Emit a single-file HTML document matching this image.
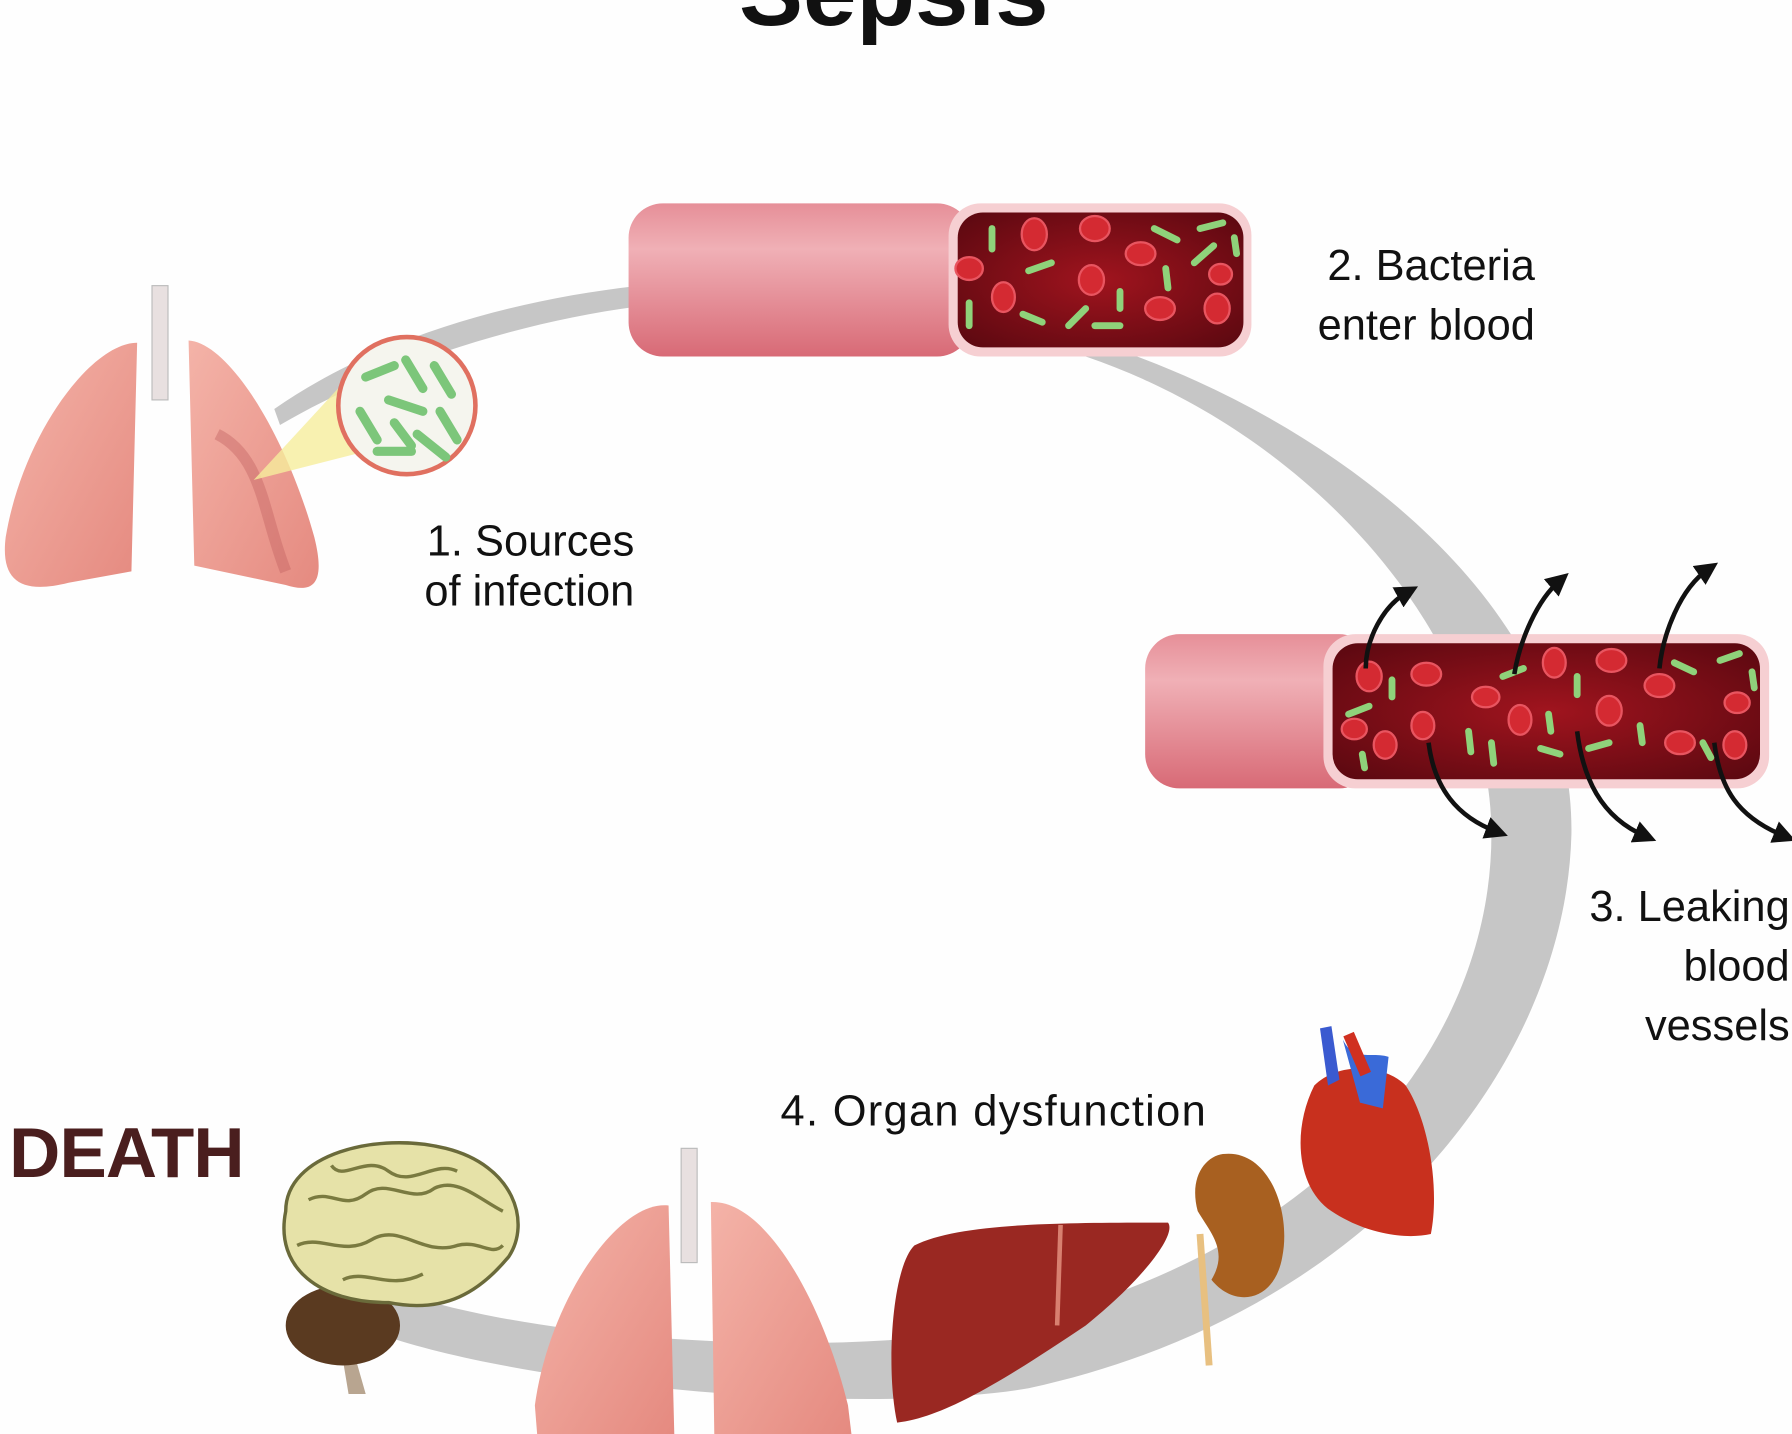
<!DOCTYPE html>
<html><head><meta charset="utf-8"><style>
html,body{margin:0;padding:0;background:#fefefe;overflow:hidden}
svg{display:block}
text{font-family:"Liberation Sans",sans-serif}
</style></head><body>
<svg width="1792" height="1434" viewBox="0 0 1568 1255" preserveAspectRatio="none" xmlns="http://www.w3.org/2000/svg">
<defs>
<linearGradient id="tube" x1="0" y1="0" x2="0" y2="1">
<stop offset="0" stop-color="#e68f98"/><stop offset="0.3" stop-color="#f0b0b6"/><stop offset="1" stop-color="#d86a76"/>
</linearGradient>
<radialGradient id="blood" cx="0.5" cy="0.5" r="0.7">
<stop offset="0" stop-color="#a0141e"/><stop offset="1" stop-color="#5a0810"/>
</radialGradient>
<linearGradient id="lung" x1="0" y1="0" x2="1" y2="1">
<stop offset="0" stop-color="#f4b3a8"/><stop offset="1" stop-color="#e58a80"/>
</linearGradient>
<marker id="ah" viewBox="0 0 10 10" refX="5" refY="5" markerWidth="5" markerHeight="5" orient="auto"><path d="M0,0 L10,5 L0,10 z" fill="#111"/></marker>
</defs>

<text x="782" y="22" text-anchor="middle" font-size="84" font-weight="bold" fill="#111">Sepsis</text>

<!-- ring -->
<path fill="#c6c6c6" d="M240,358 C330,295 450,262 560,250 L960,300 C1150,360 1378,520 1375,730 C1370,930 1200,1150 900,1215 C750,1240 450,1212 325,1165 L340,1128 C480,1178 750,1188 880,1160 C1150,1100 1305,920 1305,730 C1305,560 1150,380 950,312 L560,268 C450,282 330,322 245,372 Z"/>

<!-- left lungs -->
<rect x="133" y="250" width="14" height="100" fill="#e8e0e0" stroke="#bbb"/>
<path d="M120,300 C80,300 20,380 5,470 C0,510 20,520 60,510 L115,500 Z" fill="url(#lung)"/>
<path d="M165,298 C200,300 250,380 275,470 C285,510 275,520 250,512 L170,495 Z" fill="url(#lung)"/>
<path d="M190,380 C230,400 230,450 250,500" stroke="#c06060" stroke-width="10" fill="none" opacity="0.4"/>
<path d="M222,420 L305,330 L320,395 Z" fill="#f6ee9c" opacity="0.8"/>
<circle cx="356" cy="355" r="60" fill="#f5f5ee" stroke="#e07060" stroke-width="4"/>
<g stroke="#7cc67a" stroke-width="8" stroke-linecap="round">
<line x1="320" y1="330" x2="345" y2="320"/><line x1="355" y1="315" x2="370" y2="340"/><line x1="380" y1="320" x2="395" y2="345"/>
<line x1="315" y1="360" x2="330" y2="385"/><line x1="340" y1="350" x2="370" y2="360"/><line x1="385" y1="360" x2="400" y2="385"/>
<line x1="330" y1="395" x2="360" y2="395"/><line x1="365" y1="380" x2="390" y2="400"/><line x1="345" y1="370" x2="360" y2="390"/>
</g>

<!-- top vessel -->
<rect x="550" y="178" width="300" height="134" rx="30" fill="url(#tube)"/>
<rect x="830" y="178" width="265" height="134" rx="28" fill="#f6cfd2"/>
<rect x="838" y="186" width="250" height="118" rx="22" fill="url(#blood)"/>
<g fill="#d42a32" stroke="#e85560" stroke-width="2">
<ellipse cx="905" cy="205" rx="11" ry="14"/><ellipse cx="958" cy="200" rx="13" ry="11"/><ellipse cx="998" cy="222" rx="13" ry="10"/>
<ellipse cx="848" cy="235" rx="12" ry="10"/><ellipse cx="955" cy="245" rx="11" ry="13"/><ellipse cx="878" cy="260" rx="10" ry="13"/>
<ellipse cx="1015" cy="270" rx="13" ry="10"/><ellipse cx="1065" cy="270" rx="11" ry="13"/><ellipse cx="1068" cy="240" rx="10" ry="9"/>
</g>
<g stroke="#8fd27a" stroke-width="6" stroke-linecap="round">
<line x1="868" y1="200" x2="868" y2="218"/><line x1="900" y1="237" x2="920" y2="230"/><line x1="1010" y1="200" x2="1030" y2="210"/>
<line x1="1050" y1="200" x2="1070" y2="195"/><line x1="1045" y1="230" x2="1062" y2="215"/><line x1="1020" y1="235" x2="1022" y2="252"/>
<line x1="848" y1="265" x2="848" y2="285"/><line x1="895" y1="275" x2="912" y2="282"/><line x1="935" y1="285" x2="950" y2="270"/>
<line x1="958" y1="285" x2="980" y2="285"/><line x1="980" y1="255" x2="980" y2="270"/><line x1="1080" y1="208" x2="1082" y2="222"/>
</g>

<!-- right vessel -->
<rect x="1002" y="555" width="200" height="135" rx="30" fill="url(#tube)"/>
<rect x="1158" y="555" width="390" height="135" rx="28" fill="#f6cfd2"/>
<rect x="1166" y="563" width="374" height="119" rx="22" fill="url(#blood)"/>
<g fill="#d42a32" stroke="#e85560" stroke-width="2">
<ellipse cx="1198" cy="592" rx="11" ry="13"/><ellipse cx="1248" cy="590" rx="13" ry="10"/><ellipse cx="1300" cy="610" rx="12" ry="9"/>
<ellipse cx="1360" cy="580" rx="10" ry="13"/><ellipse cx="1410" cy="578" rx="13" ry="10"/><ellipse cx="1452" cy="600" rx="13" ry="10"/>
<ellipse cx="1185" cy="638" rx="11" ry="9"/><ellipse cx="1245" cy="635" rx="10" ry="12"/><ellipse cx="1330" cy="630" rx="10" ry="13"/>
<ellipse cx="1408" cy="622" rx="11" ry="13"/><ellipse cx="1470" cy="650" rx="13" ry="10"/><ellipse cx="1520" cy="615" rx="11" ry="9"/>
<ellipse cx="1212" cy="652" rx="10" ry="12"/><ellipse cx="1518" cy="652" rx="10" ry="12"/>
</g>
<g stroke="#8fd27a" stroke-width="6" stroke-linecap="round">
<line x1="1218" y1="595" x2="1218" y2="610"/><line x1="1180" y1="625" x2="1198" y2="618"/><line x1="1315" y1="592" x2="1333" y2="585"/>
<line x1="1380" y1="592" x2="1380" y2="608"/><line x1="1465" y1="580" x2="1482" y2="588"/><line x1="1505" y1="578" x2="1522" y2="572"/>
<line x1="1533" y1="588" x2="1535" y2="602"/><line x1="1285" y1="640" x2="1287" y2="658"/><line x1="1305" y1="650" x2="1307" y2="668"/>
<line x1="1348" y1="655" x2="1365" y2="660"/><line x1="1390" y1="655" x2="1408" y2="650"/><line x1="1435" y1="635" x2="1437" y2="650"/>
<line x1="1192" y1="660" x2="1194" y2="672"/><line x1="1355" y1="625" x2="1357" y2="640"/><line x1="1490" y1="650" x2="1497" y2="663"/>
</g>
<g stroke="#111" stroke-width="4" fill="none" marker-end="url(#ah)">
<path d="M1195,585 C1195,560 1210,530 1232,518"/>
<path d="M1325,590 C1330,560 1345,525 1365,508"/>
<path d="M1452,585 C1455,555 1470,515 1495,498"/>
<path d="M1250,650 C1255,690 1275,715 1310,728"/>
<path d="M1380,640 C1385,680 1400,715 1440,732"/>
<path d="M1500,650 C1505,690 1520,715 1562,732"/>
</g>

<!-- labels -->
<g font-size="38" fill="#111" text-anchor="end">
<text x="1343" y="245">2. Bacteria</text>
<text x="1343" y="297">enter blood</text>
<text x="555" y="486">1. Sources</text>
<text x="555" y="530">of infection</text>
<text x="1566" y="806">3. Leaking</text>
<text x="1566" y="858">blood</text>
<text x="1566" y="910">vessels</text>
</g>
<text x="683" y="985" font-size="38" fill="#111" textLength="372">4. Organ dysfunction</text>
<text x="8" y="1030" font-size="62" font-weight="bold" fill="#4a1e1e" textLength="206">DEATH</text>

<!-- brain -->
<path d="M300,1150 L320,1220 L305,1220 L295,1160 Z" fill="#b8a590"/>
<ellipse cx="300" cy="1160" rx="50" ry="35" fill="#5a3a20"/>
<path d="M250,1060 C250,1010 330,990 390,1005 C450,1020 465,1070 445,1100 C420,1130 390,1150 340,1140 C280,1140 240,1110 250,1060 Z" fill="#e6e2a8" stroke="#6a6a3a" stroke-width="3"/>
<g stroke="#7a7a40" stroke-width="3" fill="none">
<path d="M270,1050 C290,1040 300,1060 320,1045 C340,1030 360,1055 380,1040 C400,1030 420,1050 440,1060"/>
<path d="M260,1090 C280,1080 300,1100 325,1085 C350,1070 370,1100 400,1090 C420,1085 430,1100 440,1090"/>
<path d="M290,1020 C300,1035 320,1010 340,1025 C360,1040 380,1015 400,1025"/>
<path d="M300,1120 C320,1110 340,1130 370,1115"/>
</g>

<!-- bottom lungs -->
<rect x="596" y="1005" width="14" height="100" fill="#e8e0e0" stroke="#bbb"/>
<path d="M585,1055 C540,1050 480,1140 468,1230 L470,1255 L590,1255 Z" fill="url(#lung)"/>
<path d="M622,1052 C670,1050 720,1140 742,1230 L745,1255 L625,1255 Z" fill="url(#lung)"/>

<!-- liver -->
<path d="M800,1090 C840,1070 930,1070 1022,1070 C1030,1080 1000,1120 950,1160 C890,1200 830,1240 785,1245 C775,1200 780,1110 800,1090 Z" fill="#9a2822"/>
<line x1="928" y1="1072" x2="925" y2="1160" stroke="#d88070" stroke-width="4"/>

<!-- kidney -->
<path d="M1050,1080 L1058,1195" stroke="#e8c080" stroke-width="6"/>
<path d="M1070,1010 C1110,1005 1130,1060 1122,1100 C1115,1140 1080,1145 1060,1120 C1075,1095 1060,1080 1048,1060 C1040,1030 1055,1012 1070,1010 Z" fill="#a86020"/>

<!-- heart -->
<path d="M1150,950 C1130,990 1135,1040 1165,1060 C1195,1080 1230,1085 1252,1080 C1260,1040 1250,980 1230,950 C1210,930 1170,930 1150,950 Z" fill="#c8301e"/>
<path d="M1155,900 L1162,950 L1172,945 L1165,898 Z" fill="#3a5ad0"/>
<path d="M1175,910 C1185,930 1200,920 1215,925 L1210,970 L1190,965 Z" fill="#3a6ad8"/>
<path d="M1180,905 L1195,940" stroke="#d03020" stroke-width="10"/>
</svg>
</body></html>
